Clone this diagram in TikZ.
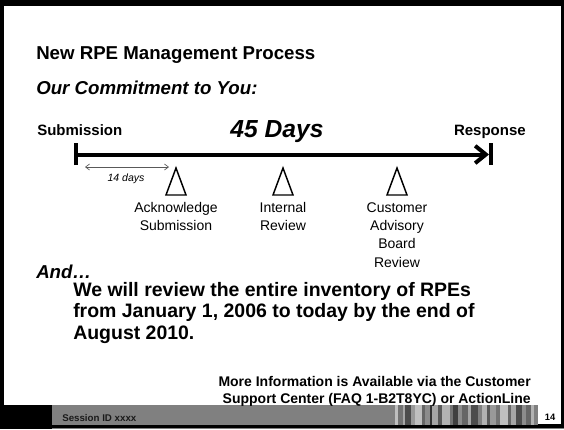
\documentclass[tikz,border=0pt]{standalone}
\usepackage{fontspec}
\setmainfont{Liberation Sans}
\usetikzlibrary{arrows.meta}
\usetikzlibrary{positioning}
\definecolor{bargray}{HTML}{808080}
\definecolor{sessiontext}{HTML}{1A1A1A}

\begin{document}
\begin{tikzpicture}[x=0.75pt, y=-0.75pt,
        heading/.style={anchor=base west, inner sep=0pt, font=\fontsize{14}{17}\selectfont\bfseries},
        ends/.style={inner sep=0pt, font=\fontsize{11.25}{13}\selectfont\bfseries},
        milestone/.style={anchor=north, inner sep=0pt, align=center, font=\fontsize{10.5}{13.8}\selectfont},
        marker/.style={draw, line width=1.1pt, line join=miter},
        footnote/.style={anchor=base east, inner sep=0pt, font=\fontsize{10.5}{12.8}\selectfont\bfseries}]
    \useasboundingbox (0,0) rectangle (564,429);
    % slide frame and footer bar
    \fill[black] (0,0) rectangle (564,429);
    \fill[white] (4,6) rectangle (561,405);
    \fill[bargray] (52,405) rectangle (395,425);
    \foreach \x/\w/\g in {395/3/25, 398/5/55, 403/2/35, 405/6/70, 411/4/40, 415/7/25, 422/3/60, 425/5/45,
            430/2/80, 432/6/35, 438/4/65, 442/8/30, 450/3/55, 453/5/75, 458/4/45, 462/6/60, 468/3/35,
            471/7/70, 478/4/50, 482/5/30, 487/3/65, 490/6/40, 496/4/55, 500/8/25, 508/3/60, 511/5/35,
            516/6/70, 522/4/45, 526/5/60, 531/3/30, 534/4/50}
        \fill[black!\g] (\x,405) rectangle ++(\w,20);
    \fill[white] (538,405) rectangle (561,424);
    \draw[gray, line width=0.6pt] (52,428) -- (564,428);
    \node[anchor=base west, inner sep=0pt, text=sessiontext, font=\fontsize{7.3}{8}\selectfont\bfseries] (session) at (62,421) {Session ID xxxx};
    \node[anchor=base, inner sep=0pt, font=\fontsize{7}{8}\selectfont\bfseries] (page) at (550,420) {14};

    % headings
    \node[heading] (title) at (36,59) {New RPE Management Process};
    \node[heading, font=\fontsize{14}{17}\selectfont\bfseries\itshape] (commit) at (36,94) {Our Commitment to You:};

    % timeline
    \node[ends, anchor=base west] (sub) at (37,135) {Submission};
    \node[ends, anchor=base east] (resp) at (526,135) {Response};
    \node[anchor=base, inner sep=0pt, font=\fontsize{18.5}{21}\selectfont\bfseries\itshape] (days) at (277,137) {45 Days};
    \coordinate (tstart) at (76,154.5);
    \coordinate (tend) at (491,154.5);
    \draw[line width=3pt, -{Straight Barb[length=8pt, width=13pt, line cap=butt]}] (tstart) -- ([xshift=-1.5pt]tend);
    \draw[line width=2.7pt] ([yshift=-8pt]tstart) -- ([yshift=8.5pt]tstart);
    \draw[line width=2.7pt] ([yshift=-8pt]tend) -- ([yshift=8.5pt]tend);

    % first 14 days
    \coordinate (fa) at (85,167);
    \coordinate (fb) at (169,167);
    \draw[black!65, line width=0.5pt, {Straight Barb[length=3pt, width=4.5pt]}-{Straight Barb[length=3pt, width=4.5pt]}] (fa) -- (fb);
    \node[anchor=base, inner sep=0pt, font=\fontsize{7.9}{9}\selectfont\itshape] (fourteen) at (126,181) {14 days};

    % milestones
    \foreach \cx in {176,283,397}
        \draw[marker] (\cx,168) -- (\cx+10,195) -- (\cx-10,195) -- cycle;
    \node[milestone] (ack) at (176,202) {Acknowledge\\Submission};
    \node[milestone] (internal) at (283,202) {Internal\\Review};
    \node[milestone] (board) at (397,202) {Customer\\Advisory\\Board\\Review};

    % review of the inventory
    \node[heading, font=\fontsize{14}{17}\selectfont\bfseries\itshape] (and) at (36,278) {And…};
    \node[anchor=north west, inner sep=0pt, align=left, font=\fontsize{14.6}{16.1}\selectfont\bfseries] (review) at (73,282)
        {We will review the entire inventory of RPEs\\from January 1, 2006 to today by the end of\\August 2010.};

    % contact
    \node[footnote] (info1) at (531,386) {More Information is Available via the Customer};
    \node[footnote] (info2) at (531,403) {Support Center (FAQ 1-B2T8YC) or ActionLine};
\end{tikzpicture}
\end{document}
